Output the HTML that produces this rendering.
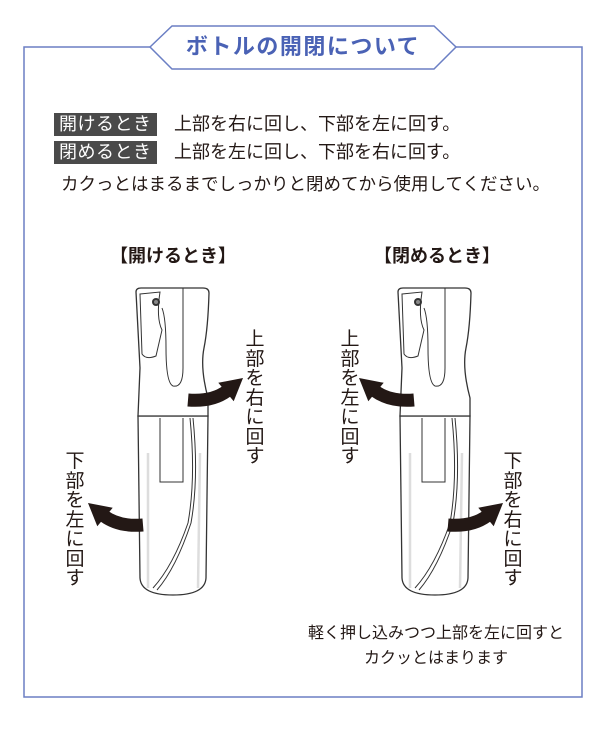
<!DOCTYPE html>
<html><head><meta charset="utf-8"><style>
body{margin:0;background:#fff;width:606px;height:742px;position:relative;overflow:hidden;font-family:"Liberation Sans","Noto Sans CJK JP",sans-serif;color:#231815}
.t{position:absolute;white-space:nowrap}
.badge{position:absolute;background:#4a4a4a;color:#fff;font-size:18px;line-height:23px;padding:0 5px;height:23px;letter-spacing:0.5px}
.v{position:absolute;width:22px;font-size:19px;line-height:20px;text-align:center;color:#231815}
</style></head><body>
<svg width="606" height="742" style="position:absolute;left:0;top:0">
<polyline points="150,47 24,47 24,697 582,697 582,47 456,47" fill="none" stroke="#6b7fc4" stroke-width="1.5"/>
<polygon points="150,47 172,26 434,26 456,47 434,69 172,69" fill="#fff" stroke="#6b7fc4" stroke-width="1.5"/>
<defs>
<g id="b">
<path d="M0,128 L2,290 Q3,307 35,307 Q67,307 68,290 L70,128 Z" fill="#fff" stroke="#333" stroke-width="1.3"/>
<path d="M10,165 L10,300 M62,165 L60,300" stroke="#ddd" stroke-width="2.5" fill="none"/>
<path d="M22,130 L22,194 L45,194 L45,130" fill="none" stroke="#333" stroke-width="1"/>
<path d="M52,130 Q58,190 50,235 Q35,278 15,300" fill="none" stroke="#333" stroke-width="1"/>
<path d="M55,130 Q61,190 53,235 Q38,280 19,302" fill="none" stroke="#333" stroke-width="1"/>
<path d="M-2,4 Q-2,0 3,0 L65,0 Q71,0 71,5 Q70,40 66,60 Q62,80 70,110 L70,128 L0,128 L2,80 Z" fill="#fff" stroke="#333" stroke-width="1.3"/>
<path d="M2,6 L22,4 Q18,30 24,42 L18,68 Q8,72 4,66 Z" fill="#fff" stroke="#333" stroke-width="1"/>
<path d="M24,20 Q28,30 28,60 Q28,95 35,98 Q45,100 45,80 L45,0" fill="none" stroke="#333" stroke-width="1"/>
<circle cx="18" cy="14" r="4" fill="#333"/><circle cx="18" cy="14" r="2" fill="#888"/>
</g>
<g id="a">
<path d="M188,400 Q212,402 227,391" fill="none" stroke="#231815" stroke-width="13"/>
<polygon points="243,378 233.7,401.2 218.3,382.8" fill="#231815"/>
</g>
</defs>
<use href="#b" x="138" y="288"/>
<use href="#b" x="400" y="288"/>
<use href="#a"/>
<use href="#a" transform="translate(602,0) scale(-1,1)"/>
<use href="#a" transform="translate(260,125)"/>
<use href="#a" transform="translate(591,0) scale(-1,1) translate(260,125)"/>
</svg>
<div class="t" style="left:152px;top:29px;width:302px;text-align:center;font-size:22px;color:#4a62b5;font-weight:bold;letter-spacing:1.5px">ボトルの開閉について</div>
<div class="badge" style="left:54px;top:113px">開けるとき</div>
<div class="t" style="left:174px;top:113px;font-size:18px;line-height:23px">上部を右に回し、下部を左に回す。</div>
<div class="badge" style="left:54px;top:141px">閉めるとき</div>
<div class="t" style="left:174px;top:141px;font-size:18px;line-height:23px">上部を左に回し、下部を右に回す。</div>
<div class="t" style="left:61px;top:173px;font-size:17.5px;line-height:23px">カクっとはまるまでしっかりと閉めてから使用してください。</div>
<div class="t" style="left:110px;top:242px;font-size:18px;font-weight:bold">【開けるとき】</div>
<div class="t" style="left:374px;top:242px;font-size:18px;font-weight:bold">【閉めるとき】</div>
<div class="v" style="left:244px;top:330px;line-height:19.5px">上部を右に回す</div>
<div class="v" style="left:64px;top:452px;line-height:19.5px">下部を左に回す</div>
<div class="v" style="left:339px;top:330px;line-height:19.5px">上部を左に回す</div>
<div class="v" style="left:502px;top:452px;line-height:19.5px">下部を右に回す</div>
<div class="t" style="left:290px;top:621px;width:292px;text-align:center;font-size:16px;line-height:25px">軽く押し込みつつ上部を左に回すと<br>カクッとはまります</div>
</body></html>
